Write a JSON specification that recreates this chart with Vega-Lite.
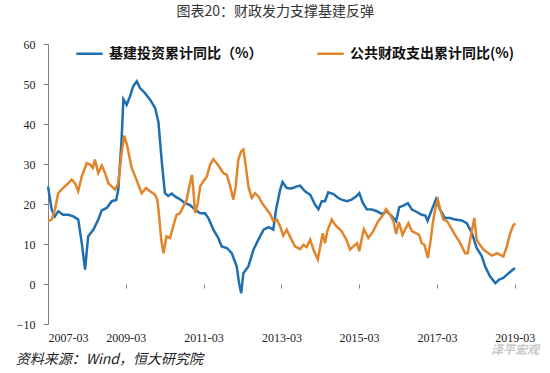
{
  "$schema": "https://vega.github.io/schema/vega-lite/v6.json",
  "width": 469,
  "height": 280,
  "autosize": "none",
  "padding": {"left": 48, "top": 44, "right": 33, "bottom": 49},
  "background": "white",
  "config": {
    "view": {"stroke": null},
    "axis": {"grid": false}
  },
  "data": {
    "values": [
      {"d": "2007-03-01", "s": "infra", "v": 24.4},
      {"d": "2007-04-05", "s": "infra", "v": 18.6},
      {"d": "2007-05-05", "s": "infra", "v": 16.9},
      {"d": "2007-06-05", "s": "infra", "v": 18.2},
      {"d": "2007-07-20", "s": "infra", "v": 17.3},
      {"d": "2007-09-08", "s": "infra", "v": 17.3},
      {"d": "2007-10-25", "s": "infra", "v": 16.9},
      {"d": "2007-12-10", "s": "infra", "v": 16.1},
      {"d": "2008-01-12", "s": "infra", "v": 10.3},
      {"d": "2008-02-12", "s": "infra", "v": 3.6},
      {"d": "2008-03-12", "s": "infra", "v": 11.9},
      {"d": "2008-05-01", "s": "infra", "v": 13.6},
      {"d": "2008-06-15", "s": "infra", "v": 16.1},
      {"d": "2008-07-18", "s": "infra", "v": 18.4},
      {"d": "2008-09-03", "s": "infra", "v": 19.0},
      {"d": "2008-10-20", "s": "infra", "v": 20.7},
      {"d": "2008-12-01", "s": "infra", "v": 21.0},
      {"d": "2008-12-20", "s": "infra", "v": 23.6},
      {"d": "2009-01-20", "s": "infra", "v": 36.0},
      {"d": "2009-02-06", "s": "infra", "v": 46.2},
      {"d": "2009-03-09", "s": "infra", "v": 44.8},
      {"d": "2009-04-09", "s": "infra", "v": 46.9},
      {"d": "2009-05-09", "s": "infra", "v": 49.4},
      {"d": "2009-06-12", "s": "infra", "v": 50.7},
      {"d": "2009-07-12", "s": "infra", "v": 49.0},
      {"d": "2009-08-28", "s": "infra", "v": 47.7},
      {"d": "2009-10-15", "s": "infra", "v": 46.1},
      {"d": "2009-12-01", "s": "infra", "v": 44.0},
      {"d": "2010-01-01", "s": "infra", "v": 40.5},
      {"d": "2010-02-03", "s": "infra", "v": 30.2},
      {"d": "2010-03-03", "s": "infra", "v": 22.7},
      {"d": "2010-04-03", "s": "infra", "v": 22.0},
      {"d": "2010-05-06", "s": "infra", "v": 22.6},
      {"d": "2010-06-06", "s": "infra", "v": 21.9},
      {"d": "2010-07-22", "s": "infra", "v": 21.2},
      {"d": "2010-09-09", "s": "infra", "v": 20.2},
      {"d": "2010-10-25", "s": "infra", "v": 19.7},
      {"d": "2010-12-12", "s": "infra", "v": 18.6},
      {"d": "2011-01-28", "s": "infra", "v": 17.7},
      {"d": "2011-03-15", "s": "infra", "v": 17.7},
      {"d": "2011-04-15", "s": "infra", "v": 16.5},
      {"d": "2011-06-01", "s": "infra", "v": 13.6},
      {"d": "2011-07-18", "s": "infra", "v": 11.5},
      {"d": "2011-08-18", "s": "infra", "v": 9.4},
      {"d": "2011-10-06", "s": "infra", "v": 9.0},
      {"d": "2011-11-21", "s": "infra", "v": 7.7},
      {"d": "2012-01-06", "s": "infra", "v": 4.4},
      {"d": "2012-01-29", "s": "infra", "v": 0.2},
      {"d": "2012-02-18", "s": "infra", "v": -2.3},
      {"d": "2012-03-09", "s": "infra", "v": 2.7},
      {"d": "2012-04-25", "s": "infra", "v": 4.4},
      {"d": "2012-06-12", "s": "infra", "v": 8.6},
      {"d": "2012-07-28", "s": "infra", "v": 11.1},
      {"d": "2012-09-15", "s": "infra", "v": 13.6},
      {"d": "2012-11-01", "s": "infra", "v": 14.2},
      {"d": "2012-12-15", "s": "infra", "v": 13.6},
      {"d": "2013-01-10", "s": "infra", "v": 18.6},
      {"d": "2013-02-18", "s": "infra", "v": 23.6},
      {"d": "2013-03-12", "s": "infra", "v": 25.5},
      {"d": "2013-04-20", "s": "infra", "v": 24.0},
      {"d": "2013-06-06", "s": "infra", "v": 23.9},
      {"d": "2013-07-24", "s": "infra", "v": 24.4},
      {"d": "2013-08-24", "s": "infra", "v": 24.6},
      {"d": "2013-10-09", "s": "infra", "v": 23.2},
      {"d": "2013-11-27", "s": "infra", "v": 22.3},
      {"d": "2014-01-12", "s": "infra", "v": 19.8},
      {"d": "2014-02-12", "s": "infra", "v": 18.7},
      {"d": "2014-03-15", "s": "infra", "v": 20.7},
      {"d": "2014-04-15", "s": "infra", "v": 20.7},
      {"d": "2014-05-15", "s": "infra", "v": 22.9},
      {"d": "2014-07-03", "s": "infra", "v": 22.5},
      {"d": "2014-08-18", "s": "infra", "v": 21.5},
      {"d": "2014-09-18", "s": "infra", "v": 21.1},
      {"d": "2014-11-06", "s": "infra", "v": 20.7},
      {"d": "2014-12-21", "s": "infra", "v": 21.1},
      {"d": "2015-02-03", "s": "infra", "v": 21.9},
      {"d": "2015-03-03", "s": "infra", "v": 22.7},
      {"d": "2015-04-03", "s": "infra", "v": 20.4},
      {"d": "2015-05-12", "s": "infra", "v": 18.7},
      {"d": "2015-06-28", "s": "infra", "v": 18.6},
      {"d": "2015-08-15", "s": "infra", "v": 18.2},
      {"d": "2015-10-01", "s": "infra", "v": 17.5},
      {"d": "2015-11-15", "s": "infra", "v": 18.2},
      {"d": "2016-01-03", "s": "infra", "v": 16.9},
      {"d": "2016-02-12", "s": "infra", "v": 15.7},
      {"d": "2016-03-12", "s": "infra", "v": 19.2},
      {"d": "2016-04-20", "s": "infra", "v": 19.6},
      {"d": "2016-06-01", "s": "infra", "v": 20.2},
      {"d": "2016-07-09", "s": "infra", "v": 18.6},
      {"d": "2016-08-24", "s": "infra", "v": 18.0},
      {"d": "2016-10-09", "s": "infra", "v": 17.3},
      {"d": "2016-11-12", "s": "infra", "v": 17.1},
      {"d": "2016-12-03", "s": "infra", "v": 15.8},
      {"d": "2017-01-12", "s": "infra", "v": 18.6},
      {"d": "2017-02-20", "s": "infra", "v": 21.2},
      {"d": "2017-03-24", "s": "infra", "v": 19.0},
      {"d": "2017-05-15", "s": "infra", "v": 16.5},
      {"d": "2017-07-03", "s": "infra", "v": 16.5},
      {"d": "2017-08-18", "s": "infra", "v": 16.1},
      {"d": "2017-10-20", "s": "infra", "v": 15.9},
      {"d": "2017-12-06", "s": "infra", "v": 15.2},
      {"d": "2018-01-24", "s": "infra", "v": 12.7},
      {"d": "2018-03-09", "s": "infra", "v": 9.0},
      {"d": "2018-04-27", "s": "infra", "v": 6.9},
      {"d": "2018-05-27", "s": "infra", "v": 4.4},
      {"d": "2018-07-12", "s": "infra", "v": 1.9},
      {"d": "2018-09-01", "s": "infra", "v": 0.2},
      {"d": "2018-10-06", "s": "infra", "v": 1.1},
      {"d": "2018-11-15", "s": "infra", "v": 1.5},
      {"d": "2019-01-03", "s": "infra", "v": 2.7},
      {"d": "2019-03-03", "s": "infra", "v": 4.0},
      {"d": "2007-03-01", "s": "fiscal", "v": 15.7},
      {"d": "2007-04-05", "s": "fiscal", "v": 16.1},
      {"d": "2007-05-05", "s": "fiscal", "v": 18.6},
      {"d": "2007-06-05", "s": "fiscal", "v": 22.7},
      {"d": "2007-07-21", "s": "fiscal", "v": 24.0},
      {"d": "2007-09-08", "s": "fiscal", "v": 25.2},
      {"d": "2007-10-10", "s": "fiscal", "v": 26.1},
      {"d": "2007-11-10", "s": "fiscal", "v": 25.2},
      {"d": "2007-12-10", "s": "fiscal", "v": 23.2},
      {"d": "2008-01-12", "s": "fiscal", "v": 26.9},
      {"d": "2008-02-28", "s": "fiscal", "v": 30.2},
      {"d": "2008-04-01", "s": "fiscal", "v": 29.8},
      {"d": "2008-04-25", "s": "fiscal", "v": 29.0},
      {"d": "2008-05-15", "s": "fiscal", "v": 31.1},
      {"d": "2008-06-15", "s": "fiscal", "v": 27.7},
      {"d": "2008-07-18", "s": "fiscal", "v": 29.6},
      {"d": "2008-08-18", "s": "fiscal", "v": 27.7},
      {"d": "2008-09-18", "s": "fiscal", "v": 25.2},
      {"d": "2008-10-20", "s": "fiscal", "v": 24.4},
      {"d": "2008-11-20", "s": "fiscal", "v": 23.6},
      {"d": "2008-12-20", "s": "fiscal", "v": 25.2},
      {"d": "2009-01-20", "s": "fiscal", "v": 32.7},
      {"d": "2009-02-15", "s": "fiscal", "v": 37.1},
      {"d": "2009-03-15", "s": "fiscal", "v": 34.4},
      {"d": "2009-04-25", "s": "fiscal", "v": 29.0},
      {"d": "2009-05-27", "s": "fiscal", "v": 26.9},
      {"d": "2009-06-27", "s": "fiscal", "v": 24.8},
      {"d": "2009-07-28", "s": "fiscal", "v": 22.7},
      {"d": "2009-09-06", "s": "fiscal", "v": 24.0},
      {"d": "2009-10-15", "s": "fiscal", "v": 23.2},
      {"d": "2009-12-01", "s": "fiscal", "v": 22.3},
      {"d": "2009-12-22", "s": "fiscal", "v": 21.0},
      {"d": "2010-01-05", "s": "fiscal", "v": 17.7},
      {"d": "2010-01-28", "s": "fiscal", "v": 11.0},
      {"d": "2010-02-18", "s": "fiscal", "v": 7.7},
      {"d": "2010-03-18", "s": "fiscal", "v": 11.9},
      {"d": "2010-04-20", "s": "fiscal", "v": 11.5},
      {"d": "2010-05-20", "s": "fiscal", "v": 14.4},
      {"d": "2010-06-20", "s": "fiscal", "v": 17.3},
      {"d": "2010-07-22", "s": "fiscal", "v": 17.7},
      {"d": "2010-08-24", "s": "fiscal", "v": 19.4},
      {"d": "2010-09-24", "s": "fiscal", "v": 21.1},
      {"d": "2010-10-18", "s": "fiscal", "v": 24.4},
      {"d": "2010-11-12", "s": "fiscal", "v": 27.3},
      {"d": "2010-11-25", "s": "fiscal", "v": 23.6},
      {"d": "2010-12-12", "s": "fiscal", "v": 17.7},
      {"d": "2011-01-06", "s": "fiscal", "v": 20.2},
      {"d": "2011-01-28", "s": "fiscal", "v": 24.4},
      {"d": "2011-02-28", "s": "fiscal", "v": 25.7},
      {"d": "2011-04-01", "s": "fiscal", "v": 26.9},
      {"d": "2011-05-01", "s": "fiscal", "v": 29.8},
      {"d": "2011-06-01", "s": "fiscal", "v": 31.2},
      {"d": "2011-07-03", "s": "fiscal", "v": 30.2},
      {"d": "2011-08-03", "s": "fiscal", "v": 29.0},
      {"d": "2011-09-03", "s": "fiscal", "v": 27.7},
      {"d": "2011-10-06", "s": "fiscal", "v": 27.3},
      {"d": "2011-11-06", "s": "fiscal", "v": 24.4},
      {"d": "2011-12-06", "s": "fiscal", "v": 21.1},
      {"d": "2011-12-28", "s": "fiscal", "v": 24.4},
      {"d": "2012-01-21", "s": "fiscal", "v": 31.1},
      {"d": "2012-02-18", "s": "fiscal", "v": 33.2},
      {"d": "2012-03-09", "s": "fiscal", "v": 33.6},
      {"d": "2012-04-01", "s": "fiscal", "v": 29.4},
      {"d": "2012-04-25", "s": "fiscal", "v": 24.4},
      {"d": "2012-05-27", "s": "fiscal", "v": 21.5},
      {"d": "2012-06-27", "s": "fiscal", "v": 22.7},
      {"d": "2012-07-28", "s": "fiscal", "v": 21.9},
      {"d": "2012-09-01", "s": "fiscal", "v": 20.2},
      {"d": "2012-10-15", "s": "fiscal", "v": 18.6},
      {"d": "2012-11-15", "s": "fiscal", "v": 17.5},
      {"d": "2012-12-15", "s": "fiscal", "v": 15.7},
      {"d": "2013-01-18", "s": "fiscal", "v": 16.1},
      {"d": "2013-02-18", "s": "fiscal", "v": 14.4},
      {"d": "2013-03-18", "s": "fiscal", "v": 12.1},
      {"d": "2013-04-20", "s": "fiscal", "v": 13.6},
      {"d": "2013-05-20", "s": "fiscal", "v": 11.9},
      {"d": "2013-07-06", "s": "fiscal", "v": 9.4},
      {"d": "2013-08-24", "s": "fiscal", "v": 8.7},
      {"d": "2013-09-24", "s": "fiscal", "v": 9.8},
      {"d": "2013-10-24", "s": "fiscal", "v": 9.2},
      {"d": "2013-11-27", "s": "fiscal", "v": 11.1},
      {"d": "2013-12-27", "s": "fiscal", "v": 8.6},
      {"d": "2014-02-06", "s": "fiscal", "v": 6.1},
      {"d": "2014-03-01", "s": "fiscal", "v": 9.4},
      {"d": "2014-03-24", "s": "fiscal", "v": 12.7},
      {"d": "2014-04-15", "s": "fiscal", "v": 10.2},
      {"d": "2014-05-06", "s": "fiscal", "v": 13.2},
      {"d": "2014-06-18", "s": "fiscal", "v": 16.1},
      {"d": "2014-07-18", "s": "fiscal", "v": 14.8},
      {"d": "2014-08-18", "s": "fiscal", "v": 14.0},
      {"d": "2014-09-18", "s": "fiscal", "v": 13.2},
      {"d": "2014-11-01", "s": "fiscal", "v": 11.1},
      {"d": "2014-12-06", "s": "fiscal", "v": 8.6},
      {"d": "2015-01-06", "s": "fiscal", "v": 9.4},
      {"d": "2015-02-09", "s": "fiscal", "v": 10.2},
      {"d": "2015-03-03", "s": "fiscal", "v": 8.2},
      {"d": "2015-03-24", "s": "fiscal", "v": 11.1},
      {"d": "2015-04-15", "s": "fiscal", "v": 13.7},
      {"d": "2015-05-27", "s": "fiscal", "v": 11.5},
      {"d": "2015-07-12", "s": "fiscal", "v": 13.2},
      {"d": "2015-08-27", "s": "fiscal", "v": 15.7},
      {"d": "2015-10-15", "s": "fiscal", "v": 17.3},
      {"d": "2015-11-09", "s": "fiscal", "v": 18.7},
      {"d": "2015-12-09", "s": "fiscal", "v": 17.7},
      {"d": "2016-01-18", "s": "fiscal", "v": 15.7},
      {"d": "2016-02-12", "s": "fiscal", "v": 12.5},
      {"d": "2016-03-09", "s": "fiscal", "v": 15.5},
      {"d": "2016-04-12", "s": "fiscal", "v": 12.3},
      {"d": "2016-05-06", "s": "fiscal", "v": 13.6},
      {"d": "2016-06-06", "s": "fiscal", "v": 15.2},
      {"d": "2016-07-09", "s": "fiscal", "v": 13.2},
      {"d": "2016-08-15", "s": "fiscal", "v": 12.7},
      {"d": "2016-09-15", "s": "fiscal", "v": 12.3},
      {"d": "2016-10-09", "s": "fiscal", "v": 10.2},
      {"d": "2016-11-03", "s": "fiscal", "v": 9.8},
      {"d": "2016-12-06", "s": "fiscal", "v": 6.5},
      {"d": "2016-12-28", "s": "fiscal", "v": 10.2},
      {"d": "2017-01-21", "s": "fiscal", "v": 15.2},
      {"d": "2017-02-20", "s": "fiscal", "v": 19.8},
      {"d": "2017-03-09", "s": "fiscal", "v": 21.1},
      {"d": "2017-04-01", "s": "fiscal", "v": 18.6},
      {"d": "2017-05-01", "s": "fiscal", "v": 16.1},
      {"d": "2017-06-03", "s": "fiscal", "v": 15.7},
      {"d": "2017-07-03", "s": "fiscal", "v": 14.4},
      {"d": "2017-08-18", "s": "fiscal", "v": 12.3},
      {"d": "2017-10-06", "s": "fiscal", "v": 10.2},
      {"d": "2017-11-21", "s": "fiscal", "v": 7.7},
      {"d": "2017-12-15", "s": "fiscal", "v": 7.7},
      {"d": "2018-01-18", "s": "fiscal", "v": 12.7},
      {"d": "2018-02-15", "s": "fiscal", "v": 16.5},
      {"d": "2018-03-09", "s": "fiscal", "v": 11.1},
      {"d": "2018-04-09", "s": "fiscal", "v": 9.8},
      {"d": "2018-05-12", "s": "fiscal", "v": 8.6},
      {"d": "2018-06-27", "s": "fiscal", "v": 7.7},
      {"d": "2018-08-03", "s": "fiscal", "v": 7.1},
      {"d": "2018-09-15", "s": "fiscal", "v": 7.7},
      {"d": "2018-10-15", "s": "fiscal", "v": 7.3},
      {"d": "2018-11-15", "s": "fiscal", "v": 6.9},
      {"d": "2018-12-18", "s": "fiscal", "v": 9.4},
      {"d": "2019-01-18", "s": "fiscal", "v": 12.7},
      {"d": "2019-02-18", "s": "fiscal", "v": 14.8},
      {"d": "2019-03-09", "s": "fiscal", "v": 15.1}
    ]
  },
  "layer": [
    {
      "transform": [{"filter": "datum.s === 'infra' && datum.d === '2007-03-01'"}],
      "mark": {"type": "rule", "stroke": "#808080", "strokeWidth": 1},
      "encoding": {
        "y": {"datum": 0, "type": "quantitative",
              "scale": {"domain": [-10, 60], "nice": false, "zero": false}, "axis": null}
      }
    },
    {
      "transform": [{"filter": "datum.s === 'infra' && datum.d === '2007-03-01'"}],
      "mark": {"type": "rule", "stroke": "#000000", "strokeWidth": 2},
      "encoding": {
        "x": {"datum": {"year": 2006, "month": 1, "date": 15}, "type": "temporal", "axis": null,
              "scale": {"domain": [{"year": 2007, "month": 3, "date": 1}, {"year": 2019, "month": 3, "date": 23}]}},
        "x2": {"datum": {"year": 2020, "month": 1, "date": 1}},
        "y": {"datum": 65.6, "type": "quantitative", "axis": null}
      }
    },
    {
      "transform": [{"filter": "datum.s === 'infra' && datum.d === '2007-03-01'"}],
      "mark": {"type": "rule", "stroke": "#000000", "strokeWidth": 2},
      "encoding": {
        "x": {"datum": {"year": 2006, "month": 1, "date": 15}, "type": "temporal", "axis": null},
        "x2": {"datum": {"year": 2020, "month": 1, "date": 1}},
        "y": {"datum": -15.7, "type": "quantitative", "axis": null}
      }
    },
    {
      "transform": [{"filter": "datum.s === 'infra'"}],
      "mark": {"type": "line", "strokeWidth": 2.5, "interpolate": "linear"},
      "encoding": {
        "x": {"field": "d", "type": "temporal",
              "axis": {"orient": "bottom", "offset": -40, "title": null, "labels": false, "domain": false,
                       "ticks": true, "tickColor": "#808080", "tickSize": 4,
                       "values": [{"year": 2007, "month": 3, "date": 1}, {"year": 2009, "month": 3, "date": 1}, {"year": 2011, "month": 3, "date": 1}, {"year": 2013, "month": 3, "date": 1}, {"year": 2015, "month": 3, "date": 1}, {"year": 2017, "month": 3, "date": 1}, {"year": 2019, "month": 3, "date": 1}]}},
        "y": {"field": "v", "type": "quantitative",
              "axis": {"orient": "left", "title": null, "values": [-10, 0, 10, 20, 30, 40, 50, 60], "labelOverlap": false, "labelBound": false,
                       "domain": true, "domainColor": "#808080", "ticks": true, "tickColor": "#808080", "tickSize": 5, "labelPadding": 8,
                       "labelFont": "Liberation Serif", "labelFontSize": 12, "labelColor": "#222222"}},
        "color": {"field": "s", "type": "nominal",
                  "scale": {"domain": ["infra", "fiscal"], "range": ["#1f6fb0", "#e2852a"]},
                  "legend": {"orient": "none", "legendX": 27, "legendY": -5, "direction": "horizontal", "title": null,
                             "symbolType": "stroke", "symbolStrokeWidth": 2.5, "symbolSize": 700, "labelOffset": 5, "columnPadding": 49,
                             "labelFont": "Noto Sans CJK SC", "labelFontSize": 14, "labelFontWeight": "bold", "labelColor": "#111111", "padding": 0,
                             "labelLimit": 400,
                             "labelExpr": "datum.label === 'infra' ? '基建投资累计同比（%）' : '公共财政支出累计同比(%)'"}}
      }
    },
    {
      "transform": [{"filter": "datum.s === 'fiscal'"}],
      "mark": {"type": "line", "strokeWidth": 2.5, "interpolate": "linear"},
      "encoding": {
        "x": {"field": "d", "type": "temporal",
              "axis": {"orient": "bottom", "title": null, "domain": false, "ticks": false, "tickSize": 0, "labelPadding": 8,
                       "format": "%Y-%m", "labelFont": "Liberation Serif", "labelFontSize": 12, "labelColor": "#222222",
                       "values": [{"year": 2007, "month": 3, "date": 1}, {"year": 2009, "month": 3, "date": 1}, {"year": 2011, "month": 3, "date": 1}, {"year": 2013, "month": 3, "date": 1}, {"year": 2015, "month": 3, "date": 1}, {"year": 2017, "month": 3, "date": 1}, {"year": 2019, "month": 3, "date": 1}]}},
        "y": {"field": "v", "type": "quantitative", "axis": null},
        "color": {"field": "s", "type": "nominal"}
      }
    },
    {
      "data": {"values": [{}]},
      "mark": {"type": "text", "text": "图表20：财政发力支撑基建反弹", "font": "Noto Sans CJK SC", "fontSize": 14, "color": "#333333", "align": "center", "baseline": "middle"},
      "encoding": {
        "x": {"datum": {"year": 2013, "month": 1, "date": 3}, "type": "temporal", "axis": null},
        "y": {"datum": 68.1, "type": "quantitative", "axis": null}
      }
    },
    {
      "data": {"values": [{}]},
      "mark": {"type": "text", "text": "资料来源：Wind，恒大研究院", "font": "Noto Sans CJK SC", "fontSize": 14, "fontStyle": "italic", "color": "#222222", "align": "left", "baseline": "middle"},
      "encoding": {
        "x": {"datum": {"year": 2006, "month": 5, "date": 1}, "type": "temporal", "axis": null},
        "y": {"datum": -18.9, "type": "quantitative", "axis": null}
      }
    },
    {
      "data": {"values": [{}]},
      "mark": {"type": "text", "text": "泽平宏观", "font": "Noto Sans CJK SC", "fontSize": 12, "fontStyle": "italic", "fontWeight": "bold", "color": "#c8c8c8", "align": "center", "baseline": "middle"},
      "encoding": {
        "x": {"datum": {"year": 2019, "month": 3, "date": 4}, "type": "temporal", "axis": null},
        "y": {"datum": -16.6, "type": "quantitative", "axis": null}
      }
    }
  ],
  "resolve": {"axis": {"x": "independent", "y": "independent"}}
}
